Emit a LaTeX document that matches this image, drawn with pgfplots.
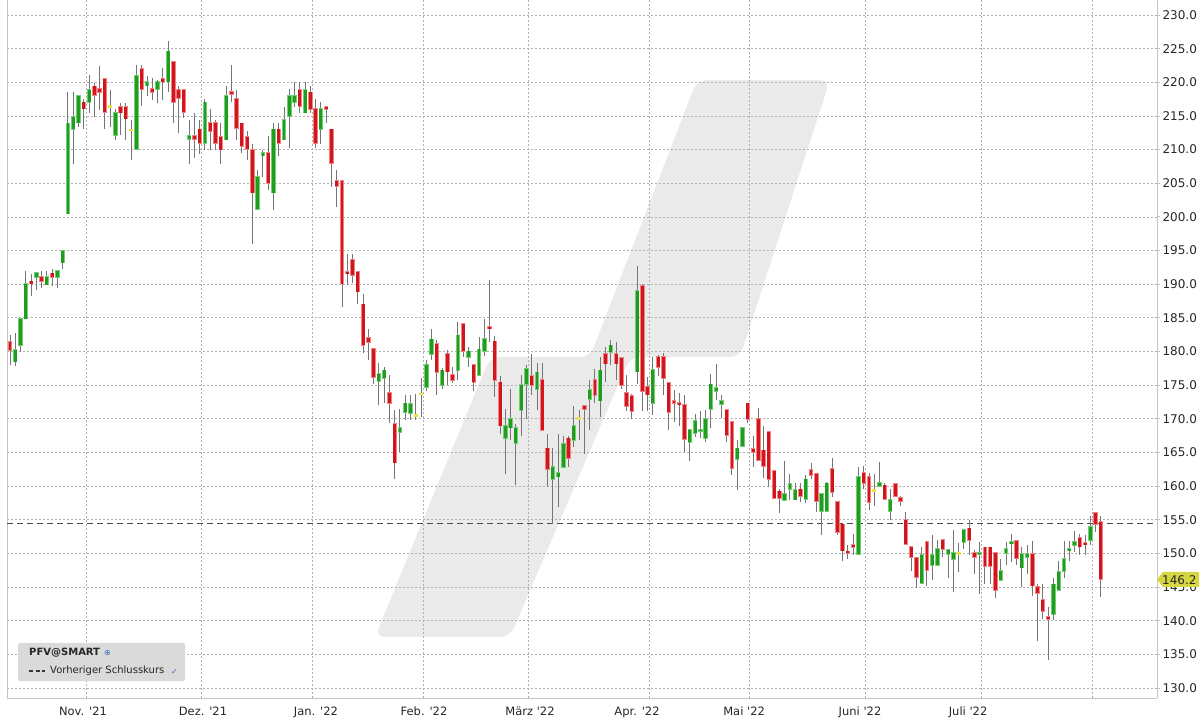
\documentclass[border=0pt]{standalone}
\usepackage{pgfplots}
\pgfplotsset{compat=1.18}
\usepackage{pgfplotstable}
\usepackage{fontspec}
\newfontfamily\vf{DejaVu Sans}
\newfontfamily\vfb{DejaVu Sans Bold}

\definecolor{gridc}{HTML}{B0B0B0}
\definecolor{axc}{HTML}{C4C4C4}
\definecolor{wm}{HTML}{EAEAEA}
\definecolor{wick}{HTML}{757575}
\definecolor{upc}{HTML}{1E9E1E}
\definecolor{upo}{HTML}{74CC74}
\definecolor{dnc}{HTML}{D3161C}
\definecolor{dno}{HTML}{EE8286}
\definecolor{flc}{HTML}{F0E23C}
\definecolor{tagc}{HTML}{D8D640}
\definecolor{legc}{HTML}{DADADA}
\definecolor{iconc}{HTML}{3C6EB4}

% daily candles: index, open, high, low, close
\pgfplotstableread{
i o h l c
1 181.4 182.5 178.0 180.2
2 178.5 182.7 177.9 180.2
3 181.0 184.8 179.9 184.8
4 184.9 191.9 184.8 190.05
5 190.4 191.5 188.3 190.1
6 191.1 191.7 189.1 191.7
7 191.1 192.0 189.5 190.5
8 189.95 191.9 189.9 191.1
9 191.6 192.3 189.8 191.1
10 191.1 192.0 189.5 192.0
11 193.2 194.9 192.3 194.9
12 200.5 218.6 200.5 213.9
13 213.1 218.6 207.9 214.9
14 214.0 218.0 213.4 218.0
15 217.0 217.5 213.0 216.1
16 217.1 221.1 215.5 218.9
17 219.4 219.9 214.9 218.1
18 219.0 222.4 215.9 218.6
19 220.5 220.5 213.0 215.6
20 216.4 218.9 213.4 216.4
21 212.1 216.1 211.4 215.5
22 216.4 216.9 212.1 215.5
23 216.4 216.9 211.4 214.6
24 212.9 214.4 208.4 212.9
25 210.1 222.5 210.1 221.0
26 222.0 222.5 216.5 219.0
27 219.5 221.0 217.9 220.0
28 219.0 220.6 217.4 218.6
29 219.0 220.4 216.9 220.0
30 220.5 222.1 217.4 220.1
31 220.1 226.1 218.6 224.6
32 223.0 223.0 213.9 217.0
33 218.9 219.4 212.4 217.6
34 218.9 218.9 214.7 215.6
35 211.6 214.4 207.9 212.0
36 212.0 215.4 208.7 211.6
37 213.0 214.4 209.4 211.0
38 211.0 217.5 209.9 217.0
39 214.0 216.0 209.9 212.7
40 214.0 214.4 209.9 211.0
41 211.9 214.0 207.9 210.0
42 211.5 219.5 211.5 218.0
43 218.6 222.5 217.0 218.2
44 217.5 218.9 211.4 213.2
45 213.9 213.9 209.5 210.5
46 211.9 212.7 208.5 210.1
47 210.0 210.9 196.0 203.6
48 201.1 207.0 201.1 206.0
49 209.1 209.9 206.0 209.5
50 209.5 212.0 204.0 205.0
51 203.6 214.0 201.0 213.0
52 213.0 214.0 209.0 211.0
53 211.5 216.4 211.5 214.4
54 215.0 219.0 210.3 218.0
55 217.1 220.0 216.4 218.0
56 218.9 220.0 215.5 216.5
57 215.5 220.0 215.5 218.9
58 218.5 219.5 215.5 216.0
59 216.0 217.5 210.3 211.0
60 213.0 217.0 210.8 216.0
61 216.4 216.4 213.9 216.0
62 213.0 213.0 204.4 208.0
63 205.3 207.0 201.4 204.6
64 205.3 205.3 186.6 190.1
65 191.8 194.5 189.9 191.6
66 193.6 194.5 190.2 191.3
67 191.8 191.8 187.0 188.9
68 187.0 188.5 179.8 180.9
69 182.0 183.3 178.8 181.4
70 180.4 180.4 175.2 176.2
71 175.6 178.3 172.1 176.7
72 176.0 177.7 172.3 177.2
73 173.8 176.5 169.4 172.3
74 169.2 171.3 161.0 163.5
75 168.0 171.5 165.0 168.6
76 171.0 173.5 169.8 172.3
77 170.9 173.5 169.8 172.2
78 170.5 173.7 169.8 170.5
79 173.7 176.0 170.3 173.7
80 174.7 178.8 174.2 178.0
81 179.6 183.3 178.7 181.8
82 181.1 181.7 173.5 176.9
83 175.0 177.5 174.5 177.2
84 179.7 180.2 175.0 177.0
85 176.5 177.7 175.3 175.8
86 177.2 184.4 175.7 182.4
87 184.1 184.1 179.2 180.1
88 179.2 180.7 177.7 180.0
89 178.0 178.0 174.2 175.5
90 176.5 182.2 176.5 180.3
91 180.0 184.9 179.3 181.9
92 183.6 190.6 181.4 183.4
93 181.5 182.3 173.3 175.7
94 175.4 176.3 167.8 169.0
95 167.1 171.5 161.8 168.9
96 168.7 174.5 166.8 170.0
97 166.4 169.2 160.1 168.6
98 171.3 176.5 167.4 175.0
99 175.2 178.0 170.0 177.4
100 176.4 179.6 173.5 175.0
101 174.4 178.3 171.3 176.9
102 175.8 178.3 168.3 168.3
103 165.6 167.8 159.9 162.5
104 161.0 165.6 154.4 162.8
105 161.4 167.8 156.9 161.9
106 162.8 167.4 162.8 166.3
107 167.1 167.4 162.8 164.1
108 166.8 171.9 165.8 168.9
109 170.0 171.3 166.8 170.0
110 171.9 171.9 164.8 171.4
111 172.9 175.8 168.3 174.3
112 175.8 177.4 172.3 173.5
113 172.7 179.2 170.2 177.2
114 179.7 180.7 175.5 178.2
115 179.9 181.7 178.0 180.9
116 179.7 181.4 175.7 178.2
117 179.1 179.1 174.5 175.0
118 173.9 176.5 171.2 171.9
119 173.4 173.7 170.0 171.1
120 177.0 192.7 175.2 189.0
121 189.8 190.1 171.2 174.1
122 174.7 176.2 171.2 173.6
123 172.3 179.2 170.5 177.3
124 179.2 179.5 176.3 177.7
125 179.2 179.8 173.5 176.1
126 175.3 175.3 168.3 171.0
127 172.6 174.3 169.5 172.3
128 172.3 173.8 169.0 172.1
129 172.1 173.5 165.0 167.0
130 166.5 168.3 163.8 168.3
131 167.9 170.7 167.3 169.7
132 168.2 171.1 167.1 168.4
133 167.1 171.3 166.6 170.0
134 171.5 176.6 168.6 175.1
135 174.1 178.2 172.8 174.6
136 172.2 173.6 170.1 172.7
137 171.3 171.3 166.6 167.6
138 169.5 169.5 161.7 162.7
139 164.0 166.9 159.4 165.6
140 166.0 168.6 165.8 168.6
141 172.3 172.3 169.4 170.0
142 165.5 167.4 162.9 165.0
143 170.0 171.6 163.9 163.9
144 165.3 168.9 161.2 163.0
145 168.0 168.0 159.8 161.0
146 162.2 162.2 158.2 158.2
147 159.2 159.5 156.0 158.2
148 157.9 163.7 157.9 158.8
149 159.5 161.8 157.9 160.3
150 158.0 160.5 157.9 159.4
151 159.5 160.4 157.6 158.5
152 158.1 161.6 157.5 161.0
153 162.4 163.4 161.1 161.6
154 161.8 161.8 156.1 157.8
155 156.3 159.0 152.7 158.8
156 156.3 160.6 156.1 160.4
157 162.5 164.1 158.4 159.1
158 157.6 157.6 152.7 153.2
159 154.3 154.3 148.9 150.4
160 150.3 151.2 149.2 150.0
161 151.3 152.9 149.7 150.9
162 149.9 162.9 149.9 161.4
163 161.9 163.0 159.6 160.4
164 161.4 162.0 156.4 157.6
165 159.3 161.8 157.1 159.3
166 160.0 163.6 160.0 160.5
167 160.1 160.4 157.9 158.1
168 156.3 159.6 154.9 158.0
169 160.3 160.5 158.4 158.5
170 158.3 158.5 157.0 157.8
171 155.0 156.2 151.4 151.4
172 151.0 151.0 147.4 149.4
173 149.3 149.3 144.8 146.5
174 145.6 151.0 145.6 149.8
175 151.7 151.7 145.1 147.5
176 148.3 152.7 146.0 149.8
177 148.3 152.0 148.3 150.7
178 152.0 152.0 149.5 150.6
179 149.9 150.5 146.3 150.5
180 149.1 153.5 144.3 150.1
181 150.0 151.6 147.3 150.0
182 151.7 153.5 150.7 153.5
183 153.7 155.0 149.8 152.0
184 150.1 150.5 147.0 149.5
185 149.9 151.7 144.0 150.1
186 150.9 150.9 145.5 148.1
187 150.9 150.9 145.5 148.1
188 150.1 150.1 143.4 144.5
189 146.0 149.2 146.0 147.4
190 150.0 151.7 148.2 150.7
191 151.5 152.9 148.7 151.7
192 151.9 151.9 148.2 149.3
193 147.9 150.9 145.0 149.9
194 149.5 151.3 147.0 149.9
195 149.9 151.9 143.7 145.2
196 145.0 145.4 137.0 144.1
197 143.1 145.4 140.2 141.4
198 140.6 142.1 134.1 140.2
199 141.0 146.4 140.1 145.4
200 144.6 148.9 144.6 147.3
201 147.4 151.9 146.4 149.2
202 150.4 151.8 148.9 150.7
203 151.2 153.4 150.2 151.7
204 152.3 152.9 149.7 151.0
205 151.5 152.7 149.7 151.3
206 152.0 155.6 151.2 153.9
207 156.0 156.0 153.2 154.4
208 154.7 155.6 143.5 146.2
}\candles

\pgfplotsset{
  wickstyle/.style={draw=none, no markers, forget plot,
    error bars/.cd, y dir=both, y explicit, error mark=none,
    error bar style={line width=1pt, draw=wick, solid}, /pgfplots/.cd},
  bodystyle/.style 2 args={draw=none, no markers, forget plot,
    error bars/.cd, y dir=both, y explicit, error mark=none,
    error bar style={line width=#1, draw=#2, solid}, /pgfplots/.cd},
}

\begin{document}
\begin{tikzpicture}
\useasboundingbox (0,0) rectangle (1204pt,720pt);

% watermark logo behind the chart
\begin{scope}[x=1pt,y=-1pt,shift={(0pt,720pt)}]
\fill[wm, rounded corners=10pt] (697,80) -- (830,80) -- (740,357) -- (630,357) -- (510,637)
  -- (375,637) -- (490,357) -- (590,357) -- cycle;
\end{scope}

\begin{axis}[
  at={(7pt,22pt)}, anchor=south west,
  scale only axis, width=1150pt, height=698pt,
  xmin=0.43, xmax=218.65, ymin=128.51, ymax=232.23,
  axis x line*=bottom, axis y line*=right,
  axis line style={draw=axc, line width=0.8pt},
  ytick={130,135,...,230},
  ymajorgrids,
  major grid style={draw=gridc, line width=0.7pt, dash pattern=on 2pt off 2pt},
  tick align=outside, major tick length=3pt,
  ytick style={draw=axc, line width=0.8pt},
  xtick style={draw=none},
  yticklabel style={font=\vf\fontsize{12}{12}\selectfont, text=black!85, xshift=-1pt},
  xtick={14.85,37.62,59.06,79.56,99.67,119.98,140.3,162.3,182.8},
  xticklabels={Nov. '21,Dez. '21,Jan. '22,Feb. '22,März '22,Apr. '22,Mai '22,Juni '22,Juli '22},
  xticklabel style={font=\vf\fontsize{11.5}{12}\selectfont, text=black!85, yshift=-2pt},
  extra x ticks={15.42,37.24,58.31,79.37,99.29,122.25,141.23,163.24,185.25,206.31},
  extra x tick labels={},
  extra x tick style={grid=major, tick style={draw=none}},
  /pgf/number format/.cd, fixed, fixed zerofill, precision=1, assume math mode=true,
  /pgfplots/.cd,
  scaled y ticks=false,
  clip=false,
]
\draw[axc, line width=0.8pt] (rel axis cs:0,0) -- (rel axis cs:0,1);

% previous close
\addplot[draw=black!70, line width=0.9pt, dash pattern=on 6pt off 4pt, forget plot]
  coordinates {(0.43,154.4) (218.65,154.4)};

% wicks
\addplot[wickstyle] table[x=i, y expr={(\thisrow{h}+\thisrow{l})/2},
  y error expr={(\thisrow{h}-\thisrow{l})/2}] {\candles};

% rising bodies
\addplot[restrict expr to domain={\thisrow{c}-\thisrow{o}}{0.01:1000}, bodystyle={4.4pt}{upo}]
  table[x=i, y expr={(\thisrow{o}+\thisrow{c})/2},
  y error expr={abs(\thisrow{c}-\thisrow{o})/2+0.12}] {\candles};
\addplot[restrict expr to domain={\thisrow{c}-\thisrow{o}}{0.01:1000}, bodystyle={2.9pt}{upc}]
  table[x=i, y expr={(\thisrow{o}+\thisrow{c})/2},
  y error expr={max(abs(\thisrow{c}-\thisrow{o})/2,0.06)}] {\candles};
% falling bodies
\addplot[restrict expr to domain={\thisrow{o}-\thisrow{c}}{0.01:1000}, bodystyle={4.4pt}{dno}]
  table[x=i, y expr={(\thisrow{o}+\thisrow{c})/2},
  y error expr={abs(\thisrow{c}-\thisrow{o})/2+0.12}] {\candles};
\addplot[restrict expr to domain={\thisrow{o}-\thisrow{c}}{0.01:1000}, bodystyle={2.9pt}{dnc}]
  table[x=i, y expr={(\thisrow{o}+\thisrow{c})/2},
  y error expr={max(abs(\thisrow{c}-\thisrow{o})/2,0.06)}] {\candles};
% unchanged bodies
\addplot[restrict expr to domain={\thisrow{o}-\thisrow{c}}{-0.01:0.01}, bodystyle={4.2pt}{flc}]
  table[x=i, y expr={\thisrow{c}},
  y error expr={0.2}] {\candles};
\end{axis}

% legend box, last-price tag
\begin{scope}[x=1pt,y=-1pt,shift={(0pt,720pt)}]
\fill[legc, rounded corners=2pt] (18,643) rectangle (185,681);
\node[anchor=west, inner sep=0pt, font=\vfb\fontsize{10}{10}\selectfont, text=black!85] at (29,653) {PFV@SMART};
\node[anchor=west, inner sep=0pt, font=\vf\fontsize{8}{8}\selectfont, text=iconc] at (104,653) {⊕};
\draw[black!80, line width=1.1pt, dash pattern=on 4pt off 2.5pt] (29,671) -- (45,671);
\node[anchor=west, inner sep=0pt, font=\vf\fontsize{10}{10}\selectfont, text=black!85] at (50,671) {Vorheriger Schlusskurs};
\node[anchor=west, inner sep=0pt, font=\vf\fontsize{8}{8}\selectfont, text=iconc] at (171,672) {✓};
\fill[tagc] (1157,579.5) -- (1163,572) -- (1199,572) -- (1199,587) -- (1163,587) -- cycle;
\node[anchor=west, inner sep=0pt, font=\vf\fontsize{12}{12}\selectfont, text=black!85] at (1162,580) {146.2};
\end{scope}
\end{tikzpicture}
\end{document}
